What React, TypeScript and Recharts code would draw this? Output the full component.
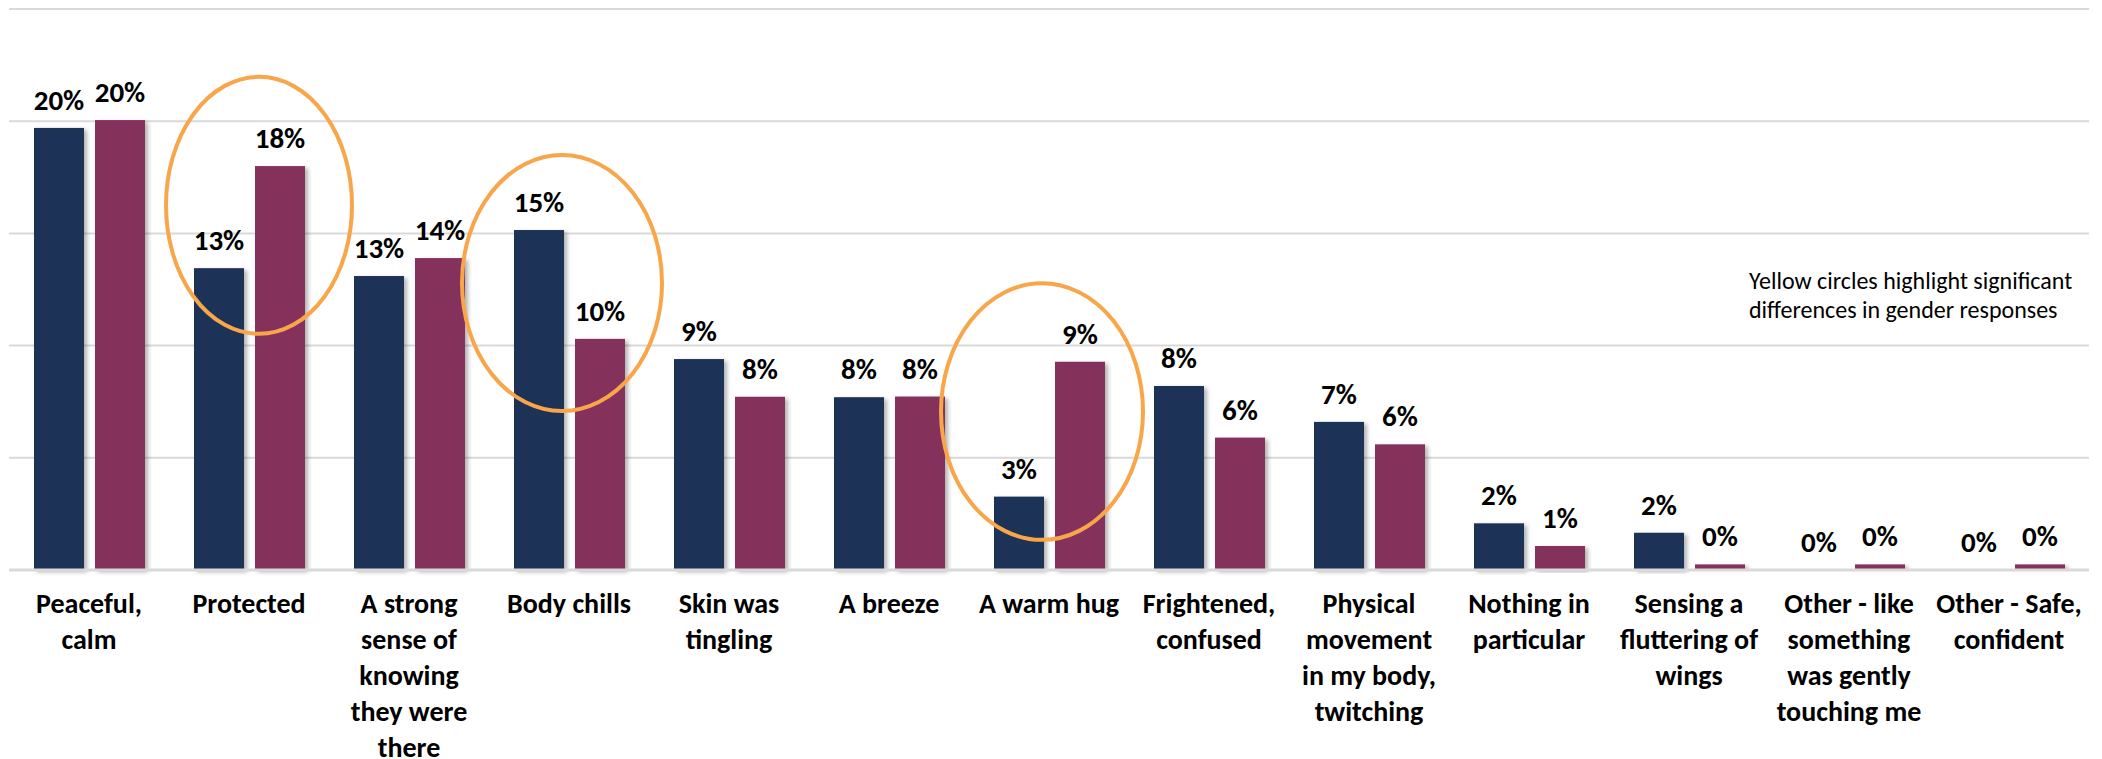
import React from "react";
import {
  BarChart,
  Bar,
  XAxis,
  YAxis,
  CartesianGrid,
  LabelList,
  ReferenceDot,
} from "recharts";

const categories = [
  "Peaceful, calm",
  "Protected",
  "A strong sense of knowing they were there",
  "Body chills",
  "Skin was tingling",
  "A breeze",
  "A warm hug",
  "Frightened, confused",
  "Physical movement in my body, twitching",
  "Nothing in particular",
  "Sensing a fluttering of wings",
  "Other - like something was gently touching me",
  "Other - Safe, confident",
];

const tickLines = [
  ["Peaceful,", "calm"],
  ["Protected"],
  ["A strong", "sense of", "knowing", "they were", "there"],
  ["Body chills"],
  ["Skin was", "tingling"],
  ["A breeze"],
  ["A warm hug"],
  ["Frightened,", "confused"],
  ["Physical", "movement", "in my body,", "twitching"],
  ["Nothing in", "particular"],
  ["Sensing a", "fluttering of", "wings"],
  ["Other - like", "something", "was gently", "touching me"],
  ["Other - Safe,", "confident"],
];

const navyValues = [19.7, 13.45, 13.1, 15.15, 9.4, 7.7, 3.27, 8.2, 6.6, 2.08, 1.66, 0.01, 0.01];
const magentaValues = [20.05, 18.0, 13.9, 10.3, 7.72, 7.73, 9.28, 5.9, 5.6, 1.07, 0.25, 0.25, 0.25];

const yTicks = [0, 5, 10, 15, 20, 25];

const highlightCategories = ["Protected", "Body chills", "A warm hug"];
const highlightCenters = [16.25, 12.79, 7.06];
const highlightShifts = [10, -7, -7];
const highlightRadiiX = [93, 100, 101];
const highlightRadiiY = [128.5, 128, 128.3];

const noteLines = [
  "Yellow circles highlight significant",
  "differences in gender responses",
];

const data = categories.map((c, i) => ({
  category: c,
  navy: navyValues[i],
  magenta: magentaValues[i],
}));

const FONT = "'Liberation Sans Narrow', 'Arial Narrow', Carlito, Calibri, sans-serif";
const NAVY = "#1C3157";
const MAGENTA = "#84305B";
const ORANGE = "#F9A64A";
const GRID = "#D9D9D9";

const CategoryTick = (props: any) => {
  const { x, y, payload } = props;
  const idx = categories.indexOf(payload.value);
  const lines = tickLines[idx] || [String(payload.value)];
  return (
    <text
      x={x}
      y={y + 37}
      textAnchor="middle"
      fontFamily={FONT}
      fontSize={28}
      fontWeight={700}
      fill="#000"
    >
      {lines.map((l, i) => (
        <tspan key={i} x={x} dy={i === 0 ? 0 : 36}>
          {l}
        </tspan>
      ))}
    </text>
  );
};

const fmt = (v: any) => `${Math.round(Number(v))}%`;

const BarShape = (p: any) => {
  if (!p.height || p.height < 0.5) return <g />;
  return (
    <rect
      x={p.x}
      y={p.y}
      width={p.width}
      height={p.height}
      fill={p.fill}
      style={{ filter: "url(#barShadow)" }}
    />
  );
};

export default function App() {
  return (
    <div
      style={{
        position: "absolute",
        left: 0,
        top: 0,
        width: 2102,
        height: 759,
        background: "#fff",
        overflow: "hidden",
      }}
    >
      <BarChart
        width={2102}
        height={759}
        data={data}
        margin={{ top: 9, right: 13, left: 9, bottom: 0 }}
        barSize={50}
        barGap={11}
      >
        <defs>
          <filter id="barShadow" x="-20%" y="-5%" width="150%" height="115%">
            <feDropShadow dx="3" dy="2" stdDeviation="2" floodColor="#000" floodOpacity="0.3" />
          </filter>
        </defs>
        <CartesianGrid vertical={false} stroke={GRID} strokeWidth={2} />
        <XAxis
          dataKey="category"
          interval={0}
          height={189}
          tickLine={false}
          tickMargin={0}
          axisLine={{ stroke: GRID, strokeWidth: 3 }}
          tick={<CategoryTick />}
        />
        <YAxis hide domain={[0, 25]} ticks={yTicks} />
        <Bar dataKey="navy" fill={NAVY} isAnimationActive={false} shape={<BarShape />}>
          <LabelList
            dataKey="navy"
            position="top"
            offset={18}
            formatter={fmt}
            fill="#000"
            fontSize={29}
            fontWeight={700}
            fontFamily={FONT}
          />
        </Bar>
        <Bar dataKey="magenta" fill={MAGENTA} isAnimationActive={false} shape={<BarShape />}>
          <LabelList
            dataKey="magenta"
            position="top"
            offset={18}
            formatter={fmt}
            fill="#000"
            fontSize={29}
            fontWeight={700}
            fontFamily={FONT}
          />
        </Bar>
        {highlightCategories.map((c, i) => (
          <ReferenceDot
            key={c}
            x={c}
            y={highlightCenters[i]}
            r={1}
            ifOverflow="visible"
            shape={(p: any) => (
              <ellipse
                cx={p.cx + highlightShifts[i]}
                cy={p.cy}
                rx={highlightRadiiX[i]}
                ry={highlightRadiiY[i]}
                fill="none"
                stroke={ORANGE}
                strokeWidth={4}
              />
            )}
          />
        ))}
      </BarChart>
      <div
        style={{
          position: "absolute",
          left: 1749,
          top: 266,
          fontFamily: FONT,
          fontSize: 24,
          lineHeight: "29px",
          color: "#000",
          whiteSpace: "nowrap",
        }}
      >
        {noteLines.map((l) => (
          <div key={l}>{l}</div>
        ))}
      </div>
    </div>
  );
}
